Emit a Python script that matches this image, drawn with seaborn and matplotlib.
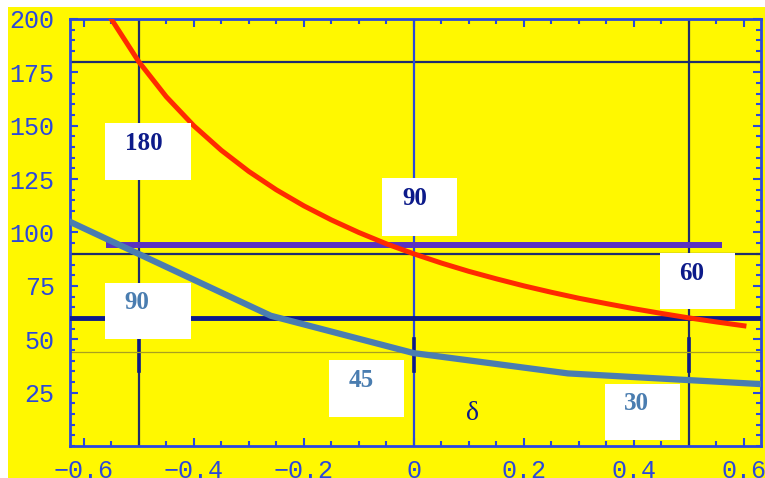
import numpy as np
import pandas as pd
import seaborn as sns
import matplotlib.pyplot as plt
from matplotlib.patches import Rectangle

# values
red_delta = [-0.55, -0.5, -0.45, -0.4, -0.35, -0.3, -0.25, -0.2, -0.15, -0.1, -0.05,
             0.0, 0.05, 0.1, 0.15, 0.2, 0.25, 0.3, 0.35, 0.4, 0.45, 0.5, 0.55, 0.6]
red_angle = [200, 180, 163.6, 150, 138.5, 128.6, 120, 112.5, 105.9, 100, 94.7,
             90, 85.7, 81.8, 78.3, 75, 72, 69.2, 66.7, 64.3, 62.1, 60, 58.1, 56.3]
blue_delta = [-0.625, -0.26, 0.0, 0.28, 0.63]
blue_angle = [105, 61, 43.5, 34, 29]

purple_level = 94
purple_span = [-0.56, 0.56]
thin_levels = [180, 90]
navy_level = 60
olive_level = 44
grid_deltas = [-0.5, 0.0, 0.5]
mark_span = [35, 50]

box_labels = ['180', '90', '60', '90', '45', '30']
x_ticks = [-0.6, -0.4, -0.2, 0, 0.2, 0.4, 0.6]
x_ticklabels = ['\u22120.6', '\u22120.4', '\u22120.2', '0', '0.2', '0.4', '0.6']
y_ticks = [25, 50, 75, 100, 125, 150, 175, 200]

YELLOW = '#fff800'
AXBLUE = '#2a48dc'
NAVY = '#0c1a8a'
STEEL = '#4a7db0'
DARK = '#1e2d6e'

fig = plt.figure(figsize=(7.65, 4.78), dpi=100, facecolor='white')
fig.patches.append(Rectangle((8 / 765, 0), 1, 471 / 478, transform=fig.transFigure,
                             facecolor=YELLOW, edgecolor='none', zorder=-10))
ax = fig.add_axes([70 / 765, 32 / 478, 691 / 765, 427 / 478])
ax.set_facecolor(YELLOW)

# reference lines
for lv in thin_levels:
    ax.axhline(lv, color=DARK, lw=1.6, zorder=2)
for i, d in enumerate(grid_deltas):
    ax.axvline(d, color=AXBLUE if d == 0 else DARK, lw=1.6, zorder=2)
    ax.plot([d, d], mark_span, color=NAVY, lw=2.6, zorder=2)
ax.axhline(olive_level, color='#a8a020', lw=0.9, zorder=2)
ax.axhline(navy_level, color=NAVY, lw=3.5, zorder=3)
ax.hlines(purple_level, purple_span[0], purple_span[1], color='#5a32c0', lw=4.3, zorder=3)

red = pd.DataFrame({'delta': red_delta, 'angle': red_angle})
blue = pd.DataFrame({'delta': blue_delta, 'angle': blue_angle})
sns.lineplot(data=red, x='delta', y='angle', color='#ff2a00', lw=3.6, ax=ax, zorder=4,
             sort=False, estimator=None)
sns.lineplot(data=blue, x='delta', y='angle', color=STEEL, lw=4.5, ax=ax, zorder=4,
             sort=False, estimator=None)

# white label boxes: (x0, y0, w, h), text position, colour
boxes = [((-0.562, 124.7, 0.157, 26.7), (-0.491, 141.6), NAVY),
         ((-0.058, 98.4, 0.136, 27.2), (0.002, 115.8), NAVY),
         ((0.447, 64.2, 0.137, 26.3), (0.505, 81.0), NAVY),
         ((-0.562, 50.2, 0.157, 26.2), (-0.504, 67.0), STEEL),
         ((-0.155, 13.6, 0.137, 26.7), (-0.096, 30.5), STEEL),
         ((0.347, 2.8, 0.137, 26.2), (0.405, 19.7), STEEL)]
for lab, (rect, tpos, col) in zip(box_labels, boxes):
    ax.add_patch(Rectangle(rect[:2], rect[2], rect[3], facecolor='white',
                           edgecolor='none', zorder=6))
    ax.text(tpos[0], tpos[1], lab, color=col, fontsize=18, fontweight='bold',
            family='Liberation Serif', ha='center', va='center', zorder=7)
ax.text(0.107, 15, '\u03b4', color=NAVY, fontsize=20, family='Liberation Serif',
        ha='center', va='center', zorder=7)

ax.set_xlim(-0.625, 0.631)
ax.set_ylim(0, 200)
ax.set_xlabel('')
ax.set_ylabel('')
ax.set_xticks(x_ticks)
ax.set_xticklabels(x_ticklabels)
ax.set_yticks(y_ticks)
ax.set_xticks(np.arange(-0.6, 0.65, 0.05), minor=True)
ax.set_yticks(np.arange(0, 201, 5), minor=True)
ax.tick_params(which='both', direction='in', top=True, right=True, color=AXBLUE, width=1.5)
ax.tick_params(which='major', length=6)
ax.tick_params(which='minor', length=3.5)
ax.tick_params(axis='x', which='major', pad=9)
ax.tick_params(axis='y', which='major', pad=11)
for lab in ax.get_xticklabels() + ax.get_yticklabels():
    lab.set_family('Liberation Mono')
    lab.set_fontsize(18)
    lab.set_color(AXBLUE)
for sp in ax.spines.values():
    sp.set_color(AXBLUE)
    sp.set_linewidth(2)

fig.savefig('out.png', dpi=100, facecolor='white')
